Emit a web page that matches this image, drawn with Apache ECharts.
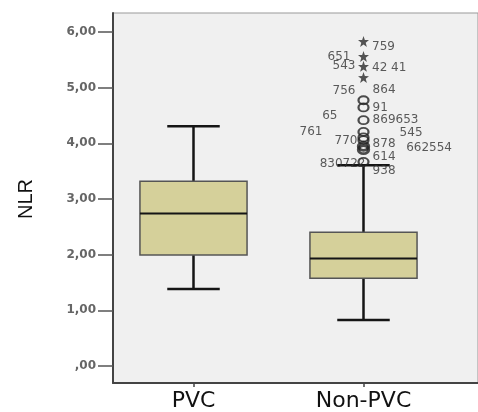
<!DOCTYPE html>
<html>
<head>
<meta charset="utf-8">
<script src="https://cdn.jsdelivr.net/npm/echarts@6/dist/echarts.min.js"></script>
<style>html,body{margin:0;padding:0;background:#fff}#c{width:478px;height:412px}</style>
</head>
<body>
<div id="c"></div>
<script>
// ---- data ----
const categories = ['PVC', 'Non-PVC'];
// [lower whisker, Q1, median, Q3, upper whisker]
const boxStats = [
  [1.37, 1.98, 2.73, 3.31, 4.30],
  [0.81, 1.565, 1.92, 2.39, 3.60]
];
const yTicks = [0, 1, 2, 3, 4, 5, 6];
// outliers of Non-PVC group
const outlierValues = [5.83, 5.56, 5.38, 5.18, 4.77, 4.64, 4.41, 4.20, 4.10, 4.05, 3.94, 3.88, 3.66];
const outlierKinds  = ['extreme','extreme','extreme','extreme','out','out','out','out','out','out','outBold','outBold','out'];
const leftIds  = ['', '651', '543', '', '756', '', '65', '761', '', '770', '', '', '830722'];
const rightIds = ['759', '', '42 41', '', '864', '91', '869653', '545', '', '878', '662554', '', '614\n938'];

// ---- layout (pixels) ----
const plotTop = 13, plotBottom = 29;       // frame of the plot
const tickTop = 32, tickBottom = 46;       // where 6,00 and ,00 sit
const H = 412;
const ppu = (H - tickBottom - tickTop) / (yTicks[yTicks.length - 1] - yTicks[0]);
const yMinFrame = yTicks[0] - (tickBottom - plotBottom) / ppu;
const yMaxFrame = yTicks[yTicks.length - 1] + (tickTop - plotTop) / ppu;

// label nudges (layout only)
const rightNudge = [[0,5],[0,0],[0,2],[0,0],[0,-10],[0,0],[0,0],[27,1],[0,0],[0,4],[33,2],[0,0],[0,2]];
const leftNudge  = [[0,0],[-5,0],[0,0],[0,0],[0,-9],[0,0],[-18,-4],[-33,0],[0,0],[2,1],[0,0],[0,0],[10,2]];

const STAR = 'path://M0,-10 L2.35,-3.24 L9.51,-3.09 L3.8,1.24 L5.88,8.09 L0,4 L-5.88,8.09 L-3.8,1.24 L-9.51,-3.09 L-2.35,-3.24 Z';

const labelFont = {color: '#333', fontFamily: 'DejaVu Sans', fontSize: 12};

const outlierPoints = outlierValues.map((v, i) => ({
  value: [1, v],
  symbol: outlierKinds[i] === 'extreme' ? STAR : 'circle',
  symbolSize: outlierKinds[i] === 'extreme' ? 11 : [10, 8],
  itemStyle: outlierKinds[i] === 'extreme'
    ? {color: '#2a2a2a', borderWidth: 0}
    : {color: 'rgba(0,0,0,0)', borderColor: '#222', borderWidth: outlierKinds[i] === 'outBold' ? 3 : 2},
  label: {show: !!rightIds[i], formatter: rightIds[i], position: 'right', distance: 3,
          offset: rightNudge[i], lineHeight: 14, ...labelFont}
}));
const outlierLeftLabels = outlierValues.map((v, i) => ({
  value: [1, v],
  label: {show: !!leftIds[i], formatter: leftIds[i], position: 'left', distance: 3,
          offset: leftNudge[i], ...labelFont}
}));

const chart = echarts.init(document.getElementById('c'), null, {renderer: 'canvas'});
const option = {
  animation: false,
  backgroundColor: '#ffffff',
  grid: [
    {left: 108.5, right: 29.5, top: plotTop, bottom: plotBottom, show: false},
    {left: 113, right: -5, top: plotTop, bottom: plotBottom, show: true, backgroundColor: '#f0f0f0',
     borderColor: '#999', borderWidth: 1, z: 0},
    {left: 113, right: -5, top: tickTop, bottom: tickBottom, show: false}
  ],
  xAxis: [
    {type: 'category', gridIndex: 0, data: categories, position: 'bottom',
     axisLine: {show: false, onZero: false},
     axisTick: {show: true, alignWithLabel: true, length: 5, lineStyle: {color: '#444', width: 1.5}},
     axisLabel: {color: '#111', fontFamily: 'DejaVu Sans', fontSize: 22, margin: 8},
     splitLine: {show: false}},
    {type: 'value', gridIndex: 1, min: 0, max: 1,
     axisLine: {show: true, onZero: false, lineStyle: {color: '#444', width: 2}},
     axisTick: {show: false}, axisLabel: {show: false}, splitLine: {show: false}},
    {type: 'value', gridIndex: 2, min: 0, max: 1, show: false}
  ],
  yAxis: [
    {type: 'value', gridIndex: 0, min: yMinFrame, max: yMaxFrame, show: false},
    {type: 'value', gridIndex: 1, min: 0, max: 1,
     axisLine: {show: true, onZero: false, lineStyle: {color: '#444', width: 2}},
     axisTick: {show: false}, axisLabel: {show: false}, splitLine: {show: false}},
    {type: 'value', gridIndex: 2, min: yTicks[0], max: yTicks[yTicks.length - 1], interval: 1,
     name: 'NLR', nameLocation: 'middle', nameRotate: 90, nameGap: 77,
     nameTextStyle: {color: '#111', fontFamily: 'Liberation Sans', fontSize: 20},
     axisLine: {show: false, onZero: false},
     axisTick: {show: true, length: 15, lineStyle: {color: '#555', width: 1.5}},
     axisLabel: {color: '#666', fontFamily: 'DejaVu Sans', fontWeight: 'bold', fontSize: 12, margin: 17,
       formatter: v => (v === 0 ? ',00' : v.toFixed(2).replace('.', ','))},
     splitLine: {show: false}}
  ],
  series: [
    {
      type: 'custom', xAxisIndex: 0, yAxisIndex: 0, z: 3,
      data: boxStats.map((s, i) => [i, ...s]),
      encode: {x: 0, y: [1, 2, 3, 4, 5]},
      renderItem: function (params, api) {
        const x = api.value(0);
        const band = api.size([1, 0])[0];
        const bw = band * 0.63;
        const cw = bw * 0.49;
        const pLo = api.coord([x, api.value(1)]);
        const pQ1 = api.coord([x, api.value(2)]);
        const pMed = api.coord([x, api.value(3)]);
        const pQ3 = api.coord([x, api.value(4)]);
        const pHi = api.coord([x, api.value(5)]);
        const cx = pMed[0];
        const lineStyle = {stroke: '#151515', lineWidth: 2.5};
        return {
          type: 'group',
          children: [
            {type: 'line', shape: {x1: cx, y1: pQ3[1], x2: cx, y2: pHi[1]}, style: lineStyle},
            {type: 'line', shape: {x1: cx, y1: pQ1[1], x2: cx, y2: pLo[1]}, style: lineStyle},
            {type: 'line', shape: {x1: cx - cw / 2, y1: pHi[1], x2: cx + cw / 2, y2: pHi[1]}, style: lineStyle},
            {type: 'line', shape: {x1: cx - cw / 2, y1: pLo[1], x2: cx + cw / 2, y2: pLo[1]}, style: lineStyle},
            {type: 'rect', shape: {x: cx - bw / 2, y: pQ3[1], width: bw, height: pQ1[1] - pQ3[1]},
             style: {fill: '#d5d09a', stroke: '#555', lineWidth: 1.5}},
            {type: 'line', shape: {x1: cx - bw / 2, y1: pMed[1], x2: cx + bw / 2, y2: pMed[1]},
             style: {stroke: '#151515', lineWidth: 2}}
          ]
        };
      }
    },
    {
      type: 'scatter', xAxisIndex: 0, yAxisIndex: 0, z: 4,
      data: outlierPoints
    },
    {
      type: 'scatter', xAxisIndex: 0, yAxisIndex: 0, z: 4,
      symbolSize: 10, itemStyle: {color: 'rgba(0,0,0,0)'},
      data: outlierLeftLabels
    }
  ]
};
chart.setOption(option);
</script>
</body>
</html>
